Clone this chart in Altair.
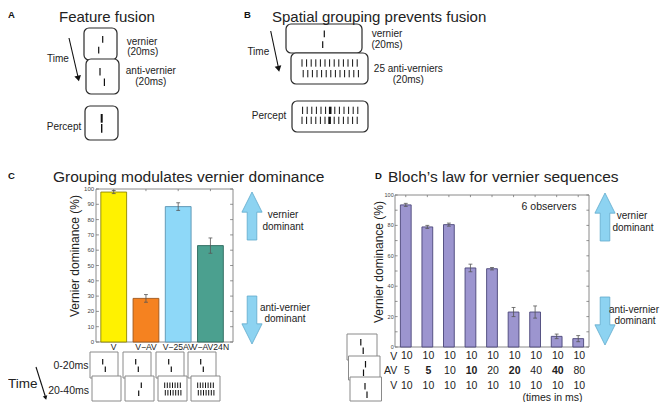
import altair as alt
import pandas as pd

# ---------------- values ----------------
c_conditions = ["V", "V\u2212AV", "V\u221225AV", "V\u2212AV24N"]
c_dominance = [98.0, 28.5, 88.5, 63.0]
c_error = [1.0, 2.5, 2.5, 5.0]
c_fill = ["#FFF200", "#F58220", "#8ED8F8", "#4BA08F"]
c_edge = ["#8F8700", "#9E5518", "#5A93B0", "#2D695C"]
c_yticks = [0, 10, 20, 30, 40, 50, 60, 70, 80, 90, 100]

d_dominance = [93.5, 79.0, 80.5, 52.0, 51.5, 23.0, 23.0, 7.0, 5.5]
d_error = [1.0, 1.0, 1.0, 2.5, 0.8, 3.0, 4.0, 1.5, 2.0]
d_v_first = ["10", "10", "10", "10", "10", "10", "10", "10", "10"]
d_av = ["5", "5", "10", "10", "20", "20", "40", "40", "80"]
d_av_bold = [False, True, False, True, False, True, False, True, False]
d_v_last = ["10", "10", "10", "10", "10", "10", "10", "10", "10"]
d_yticks = [0, 10, 20, 30, 40, 50, 60, 70, 80, 90, 100]
d_ylabels = [0, 20, 40, 60, 80, 100]

# ---------------- layout ----------------
OFF = 8
FONT = "Liberation Sans"
PX = alt.Scale(domain=[0, 669], range=[-OFF, 669 - OFF], nice=False, zero=False)
PY = alt.Scale(domain=[0, 410], range=[-OFF, 410 - OFF], nice=False, zero=False)

C_XDOM = [0.45, 4.7]
CX = alt.Scale(domain=C_XDOM, range=[96 - OFF, 233 - OFF], nice=False, zero=False)
CY = alt.Scale(domain=[0, 100], range=[342 - OFF, 189 - OFF], nice=False, zero=False)
D_XDOM = [0.5, 9.5]
DX = alt.Scale(domain=D_XDOM, range=[395 - OFF, 589 - OFF], nice=False, zero=False)
DY = alt.Scale(domain=[0, 100], range=[347 - OFF, 195 - OFF], nice=False, zero=False)


def xq(f, s):
    return alt.X(f"{f}:Q", scale=s, axis=None)


def yq(f, s):
    return alt.Y(f"{f}:Q", scale=s, axis=None)


def rects(df, sx, sy, **mark):
    return alt.Chart(df).mark_rect(**mark).encode(
        x=xq("x", sx), x2=alt.X2("x2"), y=yq("y", sy), y2=alt.Y2("y2"))


def hrules(df, sx, sy, **mark):
    return alt.Chart(df).mark_rule(**mark).encode(
        x=xq("x", sx), x2=alt.X2("x2"), y=yq("y", sy))


def vrules(df, sx, sy, **mark):
    return alt.Chart(df).mark_rule(**mark).encode(
        x=xq("x", sx), y=yq("y", sy), y2=alt.Y2("y2"))


def texts(rows, sx=PX, sy=PY, size=10, align="center", baseline="middle",
          weight="normal", color="#222", angle=0):
    df = pd.DataFrame(rows, columns=["x", "y", "t"])
    return alt.Chart(df).mark_text(
        font=FONT, fontSize=size, align=align, baseline=baseline,
        fontWeight=weight, color=color, angle=angle).encode(
        x=xq("x", sx), y=yq("y", sy), text="t:N")


layers = []

# ---------------- panels A and B: illustrations ----------------
rounded = pd.DataFrame([
    dict(x=84, x2=117, y=28, y2=60),
    dict(x=86, x2=119, y=59, y2=94),
    dict(x=85, x2=118, y=106, y2=140),
    dict(x=286, x2=362, y=24, y2=53),
    dict(x=291, x2=368, y=53, y2=84),
    dict(x=292, x2=368, y=101, y2=132),
])
layers.append(rects(rounded, PX, PY, cornerRadius=5, fill="white",
                    stroke="#2a2a2a", strokeWidth=1.2))

square = pd.DataFrame([
    # panel C, first interval
    dict(x=90, x2=118, y=352, y2=378), dict(x=123, x2=151, y=352, y2=378),
    dict(x=156, x2=184, y=352, y2=378), dict(x=188, x2=216, y=352, y2=378),
    # panel C, second interval
    dict(x=92, x2=121, y=376, y2=401), dict(x=125, x2=154, y=376, y2=401),
    dict(x=158, x2=187, y=376, y2=401), dict(x=191, x2=220, y=376, y2=401),
    # panel D sequence
    dict(x=347, x2=377, y=334, y2=360), dict(x=348.5, x2=380, y=356, y2=380),
    dict(x=350, x2=381.5, y=377, y2=401),
])
layers.append(rects(square, PX, PY, fill="white", stroke="#8a8a8a", strokeWidth=1))

seg = []  # x, y, y2, w


def pair(cx, gap_off, y0, h=6.5, gap=2.5, w=1.2):
    seg.append((cx + gap_off, y0, y0 + h, w))
    seg.append((cx - gap_off, y0 + h + gap, y0 + 2 * h + gap, w))


# A
pair(100.7, 2.0, 36, h=6.7, gap=4)
pair(102.2, -2.2, 68, h=7.5, gap=3)
seg.append((101.7, 114, 122.7, 2.0))
seg.append((101.7, 124, 132.7, 1.4))
# B
pair(323.5, 0.8, 30.5, h=6.7, gap=4)
for k in range(13):
    seg.append((302 + 4.6 * k, 59.3, 66.7, 1.0))
    seg.append((303.2 + 4.6 * k, 70, 77.3, 1.0))
for k in range(13):
    w = 2.6 if k == 6 else 1.0
    seg.append((302.6 + 4.6 * k, 106.7, 114, w))
    seg.append((302.0 + 4.6 * k, 116.7, 124, w))
# C stimuli
for cx in [104, 137, 170, 202]:
    pair(cx, -1.3, 359, h=5.5, gap=2)
pair(140, 1.3, 382.5, h=5.5, gap=2.5)
for cx in [172.5, 205.5]:
    for k in range(7):
        seg.append((cx - 7.8 + 2.6 * k, 382.5, 388, 1.0))
        seg.append((cx - 7.2 + 2.6 * k, 390, 395.5, 1.0))
# D stimuli
pair(362, -1.2, 339, h=6.5, gap=2)
pair(364.5, 1.0, 361, h=6.5, gap=2)
pair(366, -1.0, 383, h=6.5, gap=2)

seg_df = pd.DataFrame(seg, columns=["x", "y", "y2", "w"])
layers.append(alt.Chart(seg_df).mark_rule(color="#111").encode(
    x=xq("x", PX), y=yq("y", PY), y2=alt.Y2("y2"),
    strokeWidth=alt.StrokeWidth("w:Q", scale=None)))

# thin "Time" arrows
arrow_lines = pd.DataFrame([
    dict(x=69, y=38, x2=77.8, y2=76),
    dict(x=270.7, y=31, x2=278.2, y2=66.5),
    dict(x=36, y=367, x2=45.2, y2=396),
])
layers.append(alt.Chart(arrow_lines).mark_rule(color="#111", strokeWidth=1.1).encode(
    x=xq("x", PX), x2=alt.X2("x2"), y=yq("y", PY), y2=alt.Y2("y2")))
arrow_heads = pd.DataFrame([
    dict(x=78.3, y=78.5, a=347, s=45),
    dict(x=278.6, y=68.8, a=348, s=45),
    dict(x=45.6, y=397.8, a=343, s=22),
])
layers.append(alt.Chart(arrow_heads).mark_point(
    shape="triangle-down", filled=True, color="#111", opacity=1).encode(
    x=xq("x", PX), y=yq("y", PY),
    angle=alt.Angle("a:Q", scale=None), size=alt.Size("s:Q", scale=None)))

# big light-blue arrows
UP = "M0,-1L0.42,-0.16L0.2,-0.16L0.2,1L-0.2,1L-0.2,-0.16L-0.42,-0.16Z"
DOWN = "M0,1L0.42,0.16L0.2,0.16L0.2,-1L-0.2,-1L-0.2,0.16L-0.42,0.16Z"
big = pd.DataFrame([
    dict(x=252, y=216, d="up"), dict(x=252, y=320, d="down"),
    dict(x=605, y=217, d="up"), dict(x=605, y=321, d="down"),
])
layers.append(alt.Chart(big).mark_point(
    filled=True, size=2304, color="#8DD3F1", stroke="#5FA9CC",
    strokeWidth=0.8, opacity=1).encode(
    x=xq("x", PX), y=yq("y", PY),
    shape=alt.Shape("d:N", scale=alt.Scale(domain=["up", "down"], range=[UP, DOWN]),
                    legend=None)))

# ---------------- panel C ----------------
layers.append(rects(pd.DataFrame([dict(x=C_XDOM[0], x2=C_XDOM[1], y=0, y2=100)]),
                    CX, CY, fillOpacity=0, stroke="#8a8a8a", strokeWidth=1))
c_tick = pd.DataFrame(
    [dict(x=C_XDOM[0], x2=C_XDOM[0] + 0.09, y=t) for t in c_yticks] +
    [dict(x=C_XDOM[1] - 0.09, x2=C_XDOM[1], y=t) for t in c_yticks])
layers.append(hrules(c_tick, CX, CY, color="#777", strokeWidth=0.8))
c_top = pd.DataFrame([dict(x=i, y=100, y2=98.6) for i in range(1, 5)])
layers.append(vrules(c_top, CX, CY, color="#777", strokeWidth=0.8))

c_df = pd.DataFrame({"i": [1, 2, 3, 4], "cond": c_conditions,
                     "v": c_dominance, "e": c_error})
layers.append(alt.Chart(c_df).transform_calculate(
    lo="datum.i - 0.4", hi="datum.i + 0.4", z="0").mark_rect(strokeWidth=0.9).encode(
    x=xq("lo", CX), x2=alt.X2("hi"), y=yq("z", CY), y2=alt.Y2("v"),
    color=alt.Color("cond:N", scale=alt.Scale(domain=c_conditions, range=c_fill), legend=None),
    stroke=alt.Stroke("cond:N", scale=alt.Scale(domain=c_conditions, range=c_edge), legend=None)))
layers.append(alt.Chart(c_df).transform_calculate(
    lo="datum.v - datum.e", hi="datum.v + datum.e").mark_rule(
    color="#555", strokeWidth=0.8).encode(x=xq("i", CX), y=yq("lo", CY), y2=alt.Y2("hi")))
for end in ["lo", "hi"]:
    layers.append(alt.Chart(c_df).transform_calculate(
        lo="datum.v - datum.e", hi="datum.v + datum.e",
        a="datum.i - 0.06", b="datum.i + 0.06").mark_rule(
        color="#555", strokeWidth=0.8).encode(x=xq("a", CX), x2=alt.X2("b"), y=yq(end, CY)))

layers.append(texts([(C_XDOM[0] - 0.06, t, str(t)) for t in c_yticks], CX, CY, size=6,
                    align="right", color="#444"))
layers.append(texts([(i + 1, 346.5, c) for i, c in enumerate(c_conditions)], CX, PY, size=8.6))

# ---------------- panel D ----------------
layers.append(rects(pd.DataFrame([dict(x=D_XDOM[0], x2=D_XDOM[1], y=0, y2=100)]),
                    DX, DY, fillOpacity=0, stroke="#8a8a8a", strokeWidth=1))
d_tick = pd.DataFrame(
    [dict(x=D_XDOM[0], x2=D_XDOM[0] + 0.12, y=t) for t in d_yticks] +
    [dict(x=D_XDOM[1] - 0.12, x2=D_XDOM[1], y=t) for t in d_yticks])
layers.append(hrules(d_tick, DX, DY, color="#777", strokeWidth=0.8))
d_top = pd.DataFrame([dict(x=i, y=100, y2=98.6) for i in range(1, 10)])
layers.append(vrules(d_top, DX, DY, color="#777", strokeWidth=0.8))

d_df = pd.DataFrame({"i": list(range(1, 10)), "v": d_dominance, "e": d_error})
layers.append(alt.Chart(d_df).transform_calculate(
    lo="datum.i - 0.25", hi="datum.i + 0.25", z="0").mark_rect(
    fill="#9C95CF", stroke="#4A4578", strokeWidth=0.9).encode(
    x=xq("lo", DX), x2=alt.X2("hi"), y=yq("z", DY), y2=alt.Y2("v")))
layers.append(alt.Chart(d_df).transform_calculate(
    lo="datum.v - datum.e", hi="datum.v + datum.e").mark_rule(
    color="#555", strokeWidth=0.8).encode(x=xq("i", DX), y=yq("lo", DY), y2=alt.Y2("hi")))
for end in ["lo", "hi"]:
    layers.append(alt.Chart(d_df).transform_calculate(
        lo="datum.v - datum.e", hi="datum.v + datum.e",
        a="datum.i - 0.09", b="datum.i + 0.09").mark_rule(
        color="#555", strokeWidth=0.8).encode(x=xq("a", DX), x2=alt.X2("b"), y=yq(end, DY)))

layers.append(texts([(D_XDOM[0] - 0.06, t, str(t)) for t in d_ylabels], DX, DY, size=5.5,
                    align="right", color="#444"))

rows_norm, rows_bold = [], []
for k in range(9):
    rows_norm.append((k + 1.05, 356, d_v_first[k]))
    rows_norm.append((k + 1.05, 386, d_v_last[k]))
    (rows_bold if d_av_bold[k] else rows_norm).append((k + 1.05, 371, d_av[k]))
layers.append(texts(rows_norm, DX, PY, size=10.5))
layers.append(texts(rows_bold, DX, PY, size=10.5, weight="bold"))
layers.append(texts([(0.6, 356.5, "V"), (0.6, 371, "AV"), (0.6, 386, "V")],
                    DX, PY, size=10.5, align="right"))

# ---------------- annotation text ----------------
layers.append(texts([
    (59, 22, "Feature fusion"),
    (272, 21.5, "Spatial grouping prevents fusion"),
], size=15, align="left", baseline="alphabetic"))
layers.append(texts([
    (53, 182, "Grouping modulates vernier dominance"),
    (388, 182, "Bloch\u2019s law for vernier sequences"),
], size=15.5, align="left", baseline="alphabetic"))
layers.append(texts([(8, 18, "A"), (244, 18, "B"), (8, 178.5, "C"), (375, 178.5, "D")],
                    size=9.5, align="left", baseline="alphabetic", weight="bold", color="#111"))
layers.append(texts([
    (142, 42.3, "vernier"), (142.7, 52.3, "(20ms)"),
    (150.8, 70.7, "anti-vernier"), (150.8, 81.7, "(20ms)"),
    (58, 59, "Time"), (64, 126.7, "Percept"),
    (387, 33.5, "vernier"), (387, 45, "(20ms)"),
    (408.3, 69, "25 anti-verniers"), (408.3, 80, "(20ms)"),
    (258.3, 51.7, "Time"), (269, 116, "Percept"),
    (283, 215, "vernier"), (283, 226.7, "dominant"),
    (285, 308, "anti-vernier"), (285, 319.3, "dominant"),
    (632, 216, "vernier"), (633, 227.7, "dominant"),
    (634, 310, "anti-vernier"), (635, 320.7, "dominant"),
], size=10))
layers.append(texts([(549, 207, "6 observers"), (552.5, 397.5, "(times in ms)")], size=10.5))
layers.append(texts([(88.5, 366, "0-20ms"), (89, 391, "20-40ms")], size=10.5, align="right"))
layers.append(texts([(8, 384, "Time")], size=13.5, align="left"))
layers.append(texts([(75, 256, "Vernier dominance (%)"), (379, 262, "Vernier dominance (%)")],
                    size=12, angle=270))

chart = alt.layer(*layers).resolve_scale(
    x="independent", y="independent", color="independent", shape="independent",
    stroke="independent").properties(
    width=669 - 2 * OFF, height=410 - 2 * OFF, padding=0,
    autosize=alt.AutoSizeParams(type="none"), background="white"
).configure_view(stroke=None)

chart.save("out.html", embed_options={"renderer": "svg", "actions": False})
